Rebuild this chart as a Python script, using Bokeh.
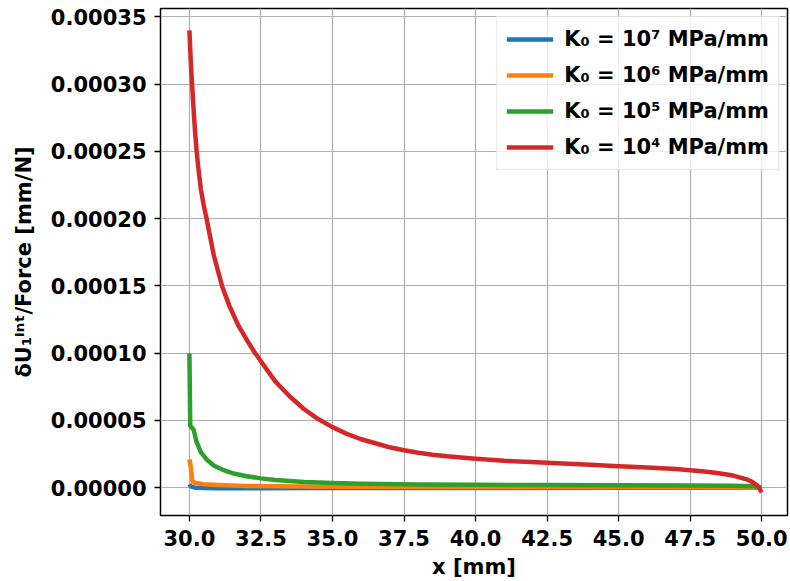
from bokeh.plotting import figure
from bokeh.models import Range1d, FixedTicker, NumeralTickFormatter, Legend, LegendItem
from bokeh.embed import file_html
from bokeh.resources import INLINE

# ---- data ----
x_blue = [30.0, 30.05, 30.2, 30.5, 31.0, 32.0, 35.0, 40.0, 45.0, 50.0]
y_blue = [2.5e-6, 1.0e-6, 0.0, -3e-7, -5e-7, -5e-7, -3e-7, -2e-7, -1e-7, 0.0]

x_orange = [30.0, 30.05, 30.1, 30.2, 30.5, 31.0, 32.0, 33.0, 35.0, 40.0, 45.0, 49.0, 50.0]
y_orange = [2.1e-5, 1.5e-5, 5e-6, 3.5e-6, 2.5e-6, 2.0e-6, 1.3e-6, 1.0e-6, 7e-7, 5e-7, 4e-7, 3e-7, 0.0]

x_green = [30.0, 30.03, 30.15, 30.25, 30.4, 30.6, 30.85, 31.2, 31.55, 32.0, 32.5, 33.0,
           34.0, 35.0, 36.0, 38.0, 40.0, 42.5, 45.0, 47.5, 49.0, 49.7, 50.0]
y_green = [1.0e-4, 4.6e-5, 4.3e-5, 3.4e-5, 2.65e-5, 2.1e-5, 1.65e-5, 1.3e-5, 1.05e-5, 8.5e-6,
           6.9e-6, 5.7e-6, 4.2e-6, 3.4e-6, 2.9e-6, 2.4e-6, 2.1e-6, 1.9e-6, 1.8e-6, 1.6e-6,
           1.4e-6, 1.0e-6, 0.0]

x_red = [30.0, 30.05, 30.1, 30.15, 30.2, 30.25, 30.3, 30.4, 30.5, 30.6, 30.85, 31.14, 31.4,
         31.7, 32.0, 32.3, 32.5, 33.0, 33.5, 34.0, 34.5, 35.0, 35.5, 36.0, 36.5, 37.0, 37.5,
         38.0, 38.5, 39.0, 40.0, 41.0, 42.5, 44.0, 45.0, 46.0, 47.0, 47.5, 48.0, 48.5, 49.0,
         49.5, 49.7, 49.85, 50.0]
y_red = [3.40e-4, 3.16e-4, 2.98e-4, 2.80e-4, 2.64e-4, 2.51e-4, 2.40e-4, 2.22e-4, 2.10e-4,
         2.00e-4, 1.73e-4, 1.50e-4, 1.35e-4, 1.21e-4, 1.10e-4, 1.00e-4, 9.4e-5, 7.9e-5, 6.8e-5,
         5.85e-5, 5.1e-5, 4.5e-5, 4.0e-5, 3.6e-5, 3.3e-5, 3.0e-5, 2.78e-5, 2.6e-5, 2.45e-5,
         2.33e-5, 2.15e-5, 2.0e-5, 1.85e-5, 1.7e-5, 1.6e-5, 1.5e-5, 1.38e-5, 1.3e-5, 1.2e-5,
         1.07e-5, 9e-6, 6e-6, 3.8e-6, 1.5e-6, -3.5e-6]

labels = ["K\u2080 = 10\u2077 MPa/mm", "K\u2080 = 10\u2076 MPa/mm",
          "K\u2080 = 10\u2075 MPa/mm", "K\u2080 = 10\u2074 MPa/mm"]
colors = ["#1f77b4", "#ff7f0e", "#2ca02c", "#d62728"]

x_ticks = [30.0, 32.5, 35.0, 37.5, 40.0, 42.5, 45.0, 47.5, 50.0]
y_ticks = [0.0, 0.00005, 0.0001, 0.00015, 0.0002, 0.00025, 0.0003, 0.00035]

FONT = "DejaVu Sans"

p = figure(width=790, height=581, output_backend="svg", toolbar_location=None,
           x_range=Range1d(28.99, 50.9), y_range=Range1d(-2.07e-5, 3.563e-4),
           min_border_left=160, min_border_right=3, min_border_top=8, min_border_bottom=64)

series = [(x_blue, y_blue), (x_orange, y_orange), (x_green, y_green), (x_red, y_red)]
renderers = []
for (xs, ys), c in zip(series, colors):
    r = p.line(xs, ys, line_color=c, line_width=4.5, line_join="round")
    renderers.append(r)

p.xaxis.ticker = FixedTicker(ticks=x_ticks)
p.yaxis.ticker = FixedTicker(ticks=y_ticks)
p.xaxis.formatter = NumeralTickFormatter(format="0.0")
p.yaxis.formatter = NumeralTickFormatter(format="0.00000")

for ax in (p.xaxis, p.yaxis):
    ax.major_label_text_font = FONT
    ax.major_label_text_font_style = "bold"
    ax.major_label_text_font_size = "21px"
    ax.major_label_text_color = "black"
    ax.axis_label_text_font = FONT
    ax.axis_label_text_font_style = "bold"
    ax.axis_label_text_font_size = "21px"
    ax.axis_label_text_color = "black"
    ax.minor_tick_line_color = None
    ax.major_tick_out = 6
    ax.major_tick_in = 0
    ax.major_tick_line_color = "black"
    ax.major_tick_line_width = 1.3
    ax.axis_line_color = None

p.xaxis.axis_label = "x [mm]"
p.yaxis.axis_label = "\u03b4U\u2081\u2071\u207f\u1d57/Force [mm/N]"
p.xaxis.major_label_standoff = 8
p.yaxis.major_label_standoff = 8
p.xaxis.axis_label_standoff = 6
p.yaxis.axis_label_standoff = 12

p.xgrid.grid_line_color = "#b0b0b0"
p.ygrid.grid_line_color = "#b0b0b0"
p.xgrid.grid_line_width = 1.2
p.ygrid.grid_line_width = 1.2

p.outline_line_color = "black"
p.outline_line_width = 1.5
p.background_fill_color = "white"
p.border_fill_color = "white"

legend = Legend(items=[LegendItem(label=l, renderers=[r]) for l, r in zip(labels, renderers)],
                location="top_right")
legend.label_text_font = FONT
legend.label_text_font_style = "bold"
legend.label_text_font_size = "21px"
legend.label_text_color = "black"
legend.glyph_width = 47
legend.glyph_height = 26
legend.label_height = 26
legend.label_standoff = 11
legend.spacing = 10
legend.padding = 9
legend.margin = 8
legend.border_line_color = "#cccccc"
legend.border_line_width = 1
legend.background_fill_alpha = 0.8
p.add_layout(legend)

open("out.html", "w").write(file_html(p, INLINE))
